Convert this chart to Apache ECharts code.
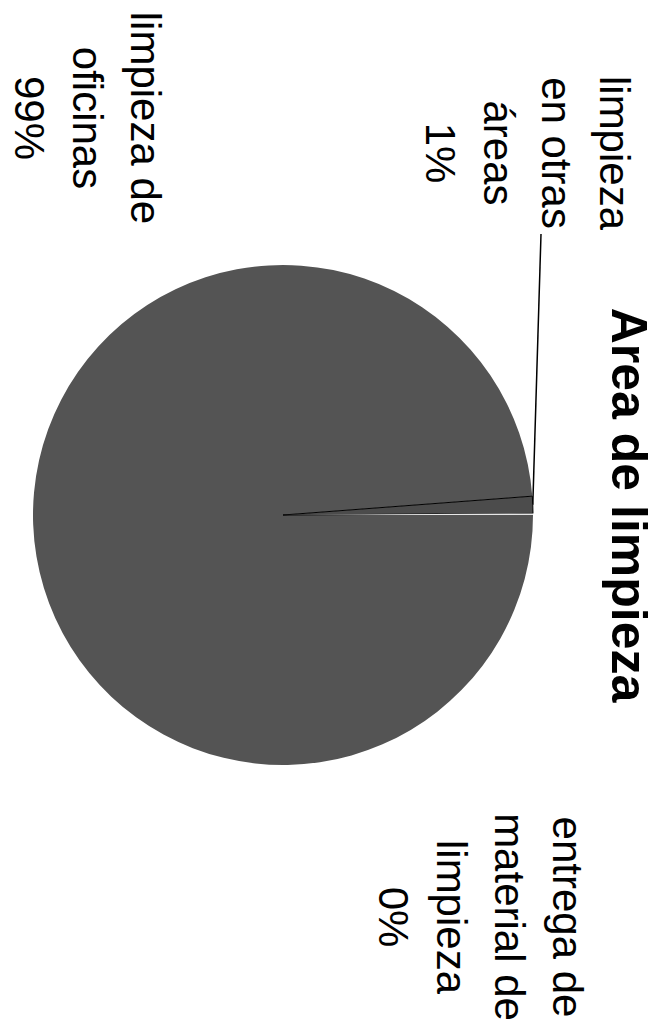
<!DOCTYPE html>
<html>
<head>
<meta charset="utf-8">
<title>Area de limpieza</title>
<script src="https://cdn.jsdelivr.net/npm/echarts@6/dist/echarts.min.js"></script>
<style>
  html, body { margin: 0; padding: 0; background: #fff; overflow: hidden; }
  /* the scanned chart is turned a quarter turn clockwise */
  #chart {
    position: absolute; left: 0; top: 0;
    width: 1034px; height: 665px;
    transform-origin: 0 0;
    transform: translate(665px, 0) rotate(90deg);
  }
</style>
</head>
<body>
<div id="chart"></div>
<script>
  const chartTitle = 'Area de limpieza'
  const categories = ['limpieza de oficinas', 'limpieza en otras áreas', 'entrega de material de limpieza']
  const shares = [98.8, 1.1, 0.1]
  // how the labels wrap in the original
  const wrapped = [
    'limpieza de\noficinas',
    'limpieza\nen otras\náreas',
    'entrega de\nmaterial de\nlimpieza'
  ]

  // label block centres (unrotated frame)
  const labelPos = [[118, 578], [153, 138], [917, 185]]
  const sliceColors = ['#545454', '#4c4c4c', '#e6e6e6']

  const chart = echarts.init(document.getElementById('chart'), null, {renderer: 'svg'})

  chart.setOption({
    animation: false,
    title: {
      text: chartTitle,
      left: 500,
      top: 6,
      textAlign: 'center',
      textStyle: {
        fontFamily: 'Liberation Sans',
        fontWeight: 'bold',
        fontSize: 50,
        color: '#000'
      }
    },
    series: [
      {
        type: 'pie',
        center: [515, 382],
        radius: 250,
        startAngle: 90,
        clockwise: true,
        avoidLabelOverlap: false,
        minShowLabelAngle: 0,
        data: categories.map((name, i) => ({
          name: name,
          value: shares[i],
          itemStyle: {
            color: sliceColors[i],
            borderColor: i === 1 ? '#000' : sliceColors[i],
            borderWidth: i === 1 ? 1 : 0
          },
          labelLine: {show: i === 1}
        })),
        label: {
          show: true,
          position: 'outer',
          fontFamily: 'Liberation Sans',
          fontSize: 42,
          lineHeight: 58,
          color: '#000',
          align: 'center',
          formatter: (p) => wrapped[p.dataIndex] + '\n' + Math.round(p.percent) + '%'
        },
        labelLine: {
          show: false,
          lineStyle: {color: '#000', width: 1.5}
        },
        labelLayout: (params) => {
          const pos = labelPos[params.dataIndex]
          const out = {
            x: pos[0],
            y: pos[1],
            align: 'center',
            verticalAlign: 'middle'
          }
          if (params.dataIndex === 1 && params.labelLinePoints) {
            const start = params.labelLinePoints[0]
            out.labelLinePoints = [start, [pos[0] + params.labelRect.width / 2 + 4, pos[1] - 14]]
          }
          return out
        }
      }
    ]
  })
</script>
</body>
</html>
